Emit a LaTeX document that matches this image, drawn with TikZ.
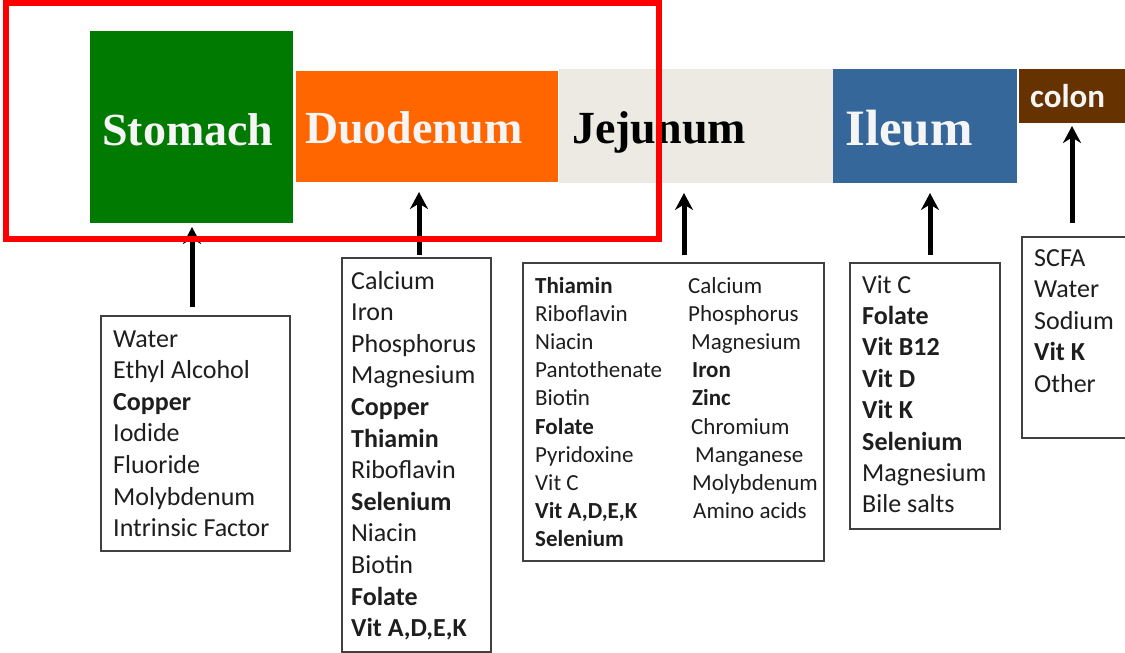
\documentclass[tikz,border=0pt]{standalone}
\usepackage{fontspec}
\setmainfont{Liberation Serif}
\newfontfamily\calfont{Carlito}
\usetikzlibrary{arrows.meta}
\definecolor{stomachgreen}{HTML}{007A00}
\definecolor{duodorange}{HTML}{FF6600}
\definecolor{jejbeige}{HTML}{ECEAE2}
\definecolor{ileumblue}{HTML}{35679A}
\definecolor{colonbrown}{HTML}{663300}
\definecolor{boxgray}{HTML}{404040}
\definecolor{itemtext}{HTML}{1E1E1E}
\definecolor{framered}{HTML}{FF0000}
\begin{document}
\begin{tikzpicture}[x=1pt,y=-1pt,
  seg/.style={draw=none, inner sep=0pt, outer sep=0pt, anchor=north west},
  title/.style={anchor=base west, inner sep=0pt, font=\bfseries\fontsize{46}{46}\selectfont},
  listbox/.style={draw=boxgray, line width=1.3pt, anchor=north west, inner sep=0pt, outer sep=0pt},
  item/.style={anchor=base west, inner sep=0pt, text=itemtext, font=\calfont\fontsize{26}{26}\selectfont},
  smallitem/.style={item, font=\calfont\fontsize{23}{23}\selectfont},
  arr/.style={line width=5pt, -{Stealth[length=17pt,width=18pt]}}]
\useasboundingbox (0,0) rectangle (1125,653);
\fill[white] (0,0) rectangle (1125,653);

% segments of the gut
\node[seg, fill=stomachgreen, minimum width=203pt, minimum height=192pt] (stomach) at (90,31) {};
\node[seg, fill=duodorange, minimum width=262pt, minimum height=111pt] (duod) at (296,71) {};
\node[seg, fill=jejbeige, minimum width=274pt, minimum height=114pt] (jej) at (559,69) {};
\node[seg, fill=ileumblue, minimum width=184pt, minimum height=114pt] (ileum) at (833,69) {};
\node[seg, fill=colonbrown, minimum width=110pt, minimum height=54pt] (colon) at (1019,69) {};

% titles
\node[title, text=white!96!black] (tS) at (102,145) {Stomach};
\node[title, text=white!96!black] (tD) at (305,143) {Duodenum};
\node[title, text=black] (tJ) at (572,143) {Jejunum};
\node[title, text=white!96!black, font=\bfseries\fontsize{51}{51}\selectfont] (tI) at (845,145) {Ileum};
\node[anchor=base west, inner sep=0pt, text=white!96!black, font=\calfont\bfseries\fontsize{33}{33}\selectfont] (tC) at (1030,107) {colon};

% list boxes
\node[listbox, minimum width=189pt, minimum height=235pt] (sbox) at (101,316) {};
\node[listbox, minimum width=149pt, minimum height=394pt] (dbox) at (342,258) {};
\node[listbox, minimum width=301pt, minimum height=298pt] (jbox) at (523,263) {};
\node[listbox, minimum width=150pt, minimum height=266pt] (ibox) at (850,263) {};
\node[listbox, minimum width=110pt, minimum height=201pt] (cbox) at (1022,237) {};

% stomach items
\foreach \t [count=\i from 0] in {Water, Ethyl Alcohol, \textbf{Copper}, Iodide, Fluoride, Molybdenum, Intrinsic Factor}
  \node[item] (s\i) at (113,347+31.6*\i) {\t};

% duodenum items
\foreach \t [count=\i from 0] in {Calcium, Iron, Phosphorus, Magnesium, \textbf{Copper}, \textbf{Thiamin}, Riboflavin, \textbf{Selenium}, Niacin, Biotin, \textbf{Folate}, \textbf{Vit A,D,E,K}}
  \node[item] (d\i) at (351,289+31.6*\i) {\t};

% jejunum items
\foreach \t [count=\i from 0] in {\textbf{Thiamin}, Riboflavin, Niacin, Pantothenate, Biotin, \textbf{Folate}, Pyridoxine, Vit C, \textbf{Vit A,D,E,K}, \textbf{Selenium}}
  \node[smallitem] (ja\i) at (535,293+28.2*\i) {\t};
\foreach \dx/\t [count=\i from 0] in {0/Calcium, 0/Phosphorus, 3/Magnesium, 4/\textbf{Iron}, 4/\textbf{Zinc}, 3/Chromium, 7/Manganese, 4/Molybdenum, 5/Amino acids}
  \node[smallitem] (jb\i) at (688+\dx,293+28.2*\i) {\t};

% ileum items
\foreach \t [count=\i from 0] in {Vit C, \textbf{Folate}, \textbf{Vit B12}, \textbf{Vit D}, \textbf{Vit K}, \textbf{Selenium}, Magnesium, Bile salts}
  \node[item] (i\i) at (862,293+31.4*\i) {\t};

% colon items
\foreach \t [count=\i from 0] in {SCFA, Water, Sodium, \textbf{Vit K}, Other}
  \node[item] (c\i) at (1034,266+31.5*\i) {\t};

% arrows
\draw[arr, shorten <=9pt, shorten >=4pt] (sbox.north -| 192,0) -- (stomach.south -| 192,0);
\draw[arr, shorten <=3pt, shorten >=10pt] (dbox.north -| 419,0) -- (duod.south -| 419,0);
\draw[arr, shorten <=8pt, shorten >=10pt] (jbox.north -| 684,0) -- (jej.south -| 684,0);
\draw[arr, shorten <=8pt, shorten >=10pt] (ibox.north -| 930,0) -- (ileum.south -| 930,0);
\draw[arr, shorten <=14pt, shorten >=3pt] (cbox.north -| 1072,0) -- (colon.south -| 1072,0);

% red highlight frame
\draw[framered, line width=5.5pt] (6,3) rectangle (659,239);
\end{tikzpicture}
\end{document}
